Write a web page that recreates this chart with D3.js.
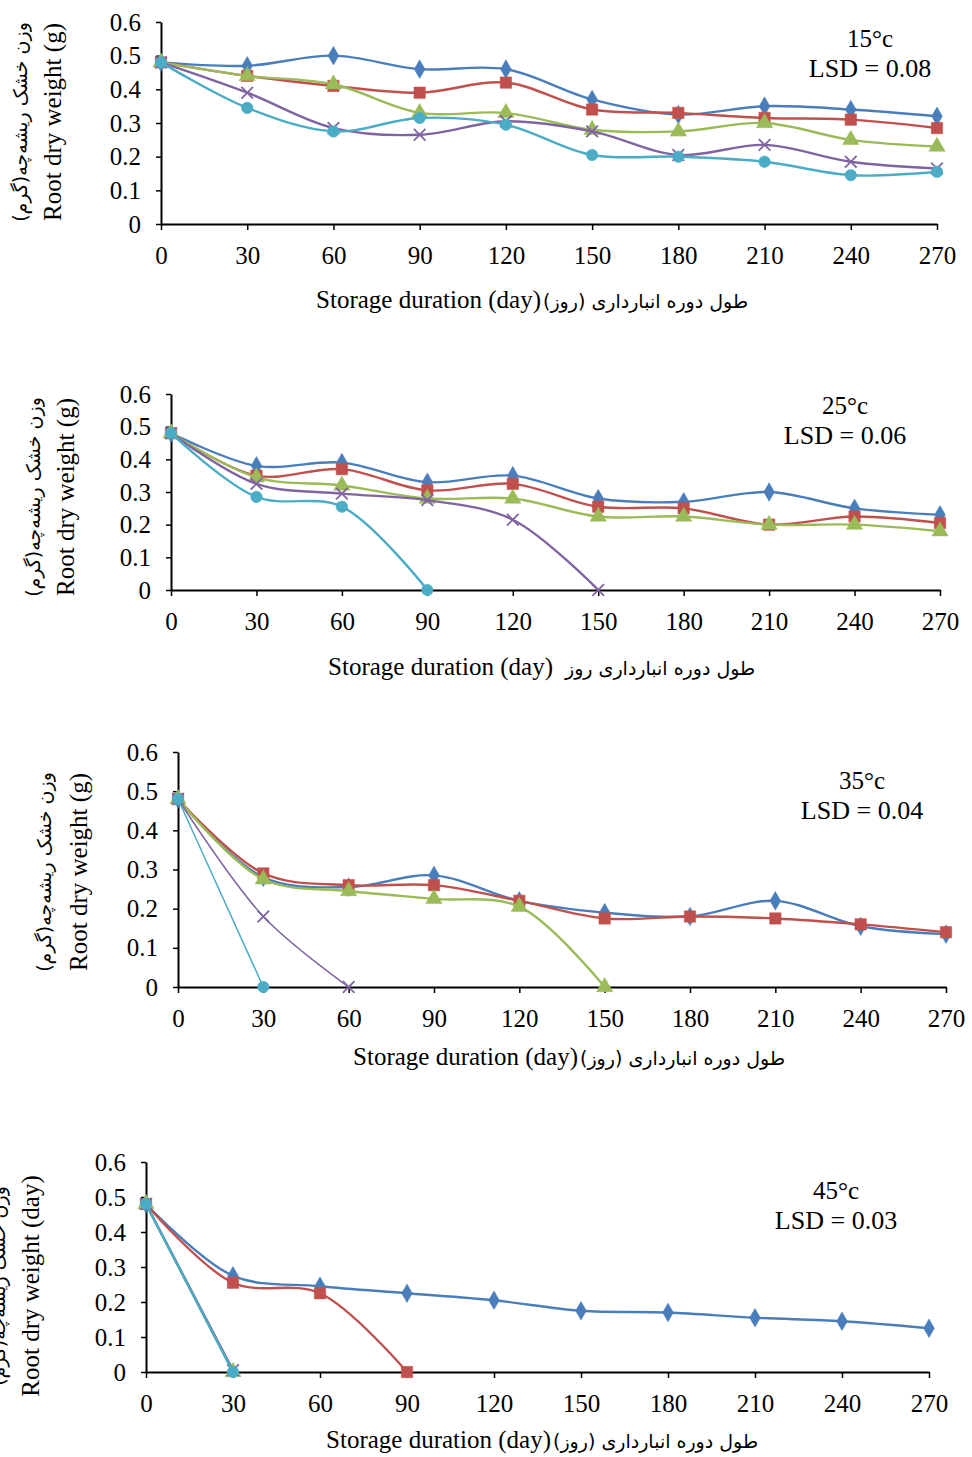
<!DOCTYPE html>
<html>
<head>
<meta charset="utf-8">
<script src="https://cdn.jsdelivr.net/npm/d3@7"></script>
<style>
  body { margin: 0; background: #fff; }
  svg { display: block; }
</style>
</head>
<body>
<svg id="chart" width="972" height="1457"></svg>
<script>
// days on the x axis, shared by all four panels
var days = [0, 30, 60, 90, 120, 150, 180, 210, 240, 270];
var yTicks = [0, 0.1, 0.2, 0.3, 0.4, 0.5, 0.6];

// series order: blue (diamond), red (square), green (triangle), purple (x), cyan (circle)
var t15 = [
  [0.48, 0.47, 0.50, 0.46, 0.46, 0.37, 0.325, 0.35, 0.34, 0.32],
  [0.48, 0.44, 0.41, 0.39, 0.42, 0.34, 0.33, 0.315, 0.31, 0.285],
  [0.48, 0.44, 0.415, 0.33, 0.33, 0.28, 0.275, 0.30, 0.25, 0.23],
  [0.48, 0.39, 0.285, 0.265, 0.305, 0.275, 0.205, 0.235, 0.185, 0.165],
  [0.48, 0.345, 0.275, 0.315, 0.295, 0.205, 0.20, 0.185, 0.145, 0.155]
];
var t25 = [
  [0.48, 0.38, 0.39, 0.33, 0.35, 0.28, 0.27, 0.30, 0.25, 0.23],
  [0.48, 0.35, 0.37, 0.305, 0.325, 0.255, 0.25, 0.20, 0.225, 0.205],
  [0.48, 0.345, 0.32, 0.28, 0.28, 0.225, 0.225, 0.20, 0.20, 0.18],
  [0.48, 0.325, 0.295, 0.275, 0.215, 0],
  [0.48, 0.285, 0.255, 0]
];
var t35 = [
  [0.48, 0.28, 0.255, 0.285, 0.22, 0.19, 0.18, 0.22, 0.155, 0.135],
  [0.48, 0.29, 0.26, 0.26, 0.22, 0.175, 0.18, 0.175, 0.16, 0.14],
  [0.48, 0.275, 0.245, 0.225, 0.205, 0],
  [0.48, 0.18, 0],
  [0.48, 0]
];
var t45 = [
  [0.48, 0.275, 0.245, 0.225, 0.205, 0.175, 0.17, 0.155, 0.145, 0.125],
  [0.48, 0.255, 0.225, 0],
  [0.48, 0],
  [0.48, 0.005],
  [0.48, 0]
];
var temps = ['15°c', '25°c', '35°c', '45°c'];
var lsds = ['LSD = 0.08', 'LSD = 0.06', 'LSD = 0.04', 'LSD = 0.03'];

var colors = ['#4a7ebb', '#c0504d', '#9bbb59', '#8064a2', '#4bacc6'];
var symbols = [d3.symbolDiamond, d3.symbolSquare, d3.symbolTriangle, d3.symbolX, d3.symbolCircle];
var symSizes = [100, 130, 115, 90, 105];

var faY = 'وزن خشک ریشه‌چه(گرم)';
var faX = ['طول دوره انبارداری (روز)', 'طول دوره انبارداری روز', 'طول دوره انبارداری (روز)', 'طول دوره انبارداری (روز)'];

// panel geometry
var panels = [
  { data: t15, x0: 161, x1: 937, yTop: 22, yBot: 224, ann: [870, 38], xt: [541, 300],
    yl: { en: 'Root dry weight (g)', enX: 52, faX: 20, cy: 122 } },
  { data: t25, x0: 171, x1: 940, yTop: 394, yBot: 590, ann: [845, 405], xt: [553, 667],
    yl: { en: 'Root dry weight (g)', enX: 65, faX: 33, cy: 497 } },
  { data: t35, x0: 178, x1: 946, yTop: 752, yBot: 987, ann: [862, 780], xt: [578, 1057],
    yl: { en: 'Root dry weight (g)', enX: 78, faX: 44, cy: 872 } },
  { data: t45, x0: 146, x1: 929, yTop: 1162, yBot: 1372, ann: [836, 1190], xt: [551, 1440],
    yl: { en: 'Root dry weight (day)', enX: 30, faX: -2, cy: 1286 } }
];

var svg = d3.select('#chart');
var serif = '"Liberation Serif", "Times New Roman", serif';
var faFont = '"DejaVu Sans", "Noto Sans", sans-serif';

panels.forEach(function(p, pi) {
  var x = d3.scaleLinear().domain([0, 270]).range([p.x0, p.x1]);
  var y = d3.scaleLinear().domain([0, 0.6]).range([p.yBot, p.yTop]);
  var g = svg.append('g');

  // axes
  var xAxis = g.append('g')
    .attr('transform', 'translate(0,' + p.yBot + ')')
    .call(d3.axisBottom(x).tickValues(days).tickSize(6).tickSizeOuter(0).tickPadding(16));
  var yAxis = g.append('g')
    .attr('transform', 'translate(' + p.x0 + ',0)')
    .call(d3.axisLeft(y).tickValues(yTicks).tickSize(5).tickSizeOuter(0).tickPadding(15)
      .tickFormat(function(d) { return d === 0 ? '0' : d3.format('.1f')(d); }));
  [xAxis, yAxis].forEach(function(a) {
    a.select('.domain').attr('stroke', '#000').attr('stroke-width', 2);
    a.selectAll('.tick line').attr('stroke', '#000').attr('stroke-width', 1.5);
    a.selectAll('.tick text')
      .attr('fill', '#000')
      .style('font-family', serif)
      .style('font-size', '25px');
  });

  // series lines and markers
  p.data.forEach(function(vals, si) {
    var pts = vals.map(function(v, i) { return [days[i], v]; });
    var line = d3.line()
      .x(function(d) { return x(d[0]); })
      .y(function(d) { return y(d[1]); })
      .curve(d3.curveCatmullRom.alpha(0.5));
    g.append('path')
      .datum(pts)
      .attr('d', line)
      .attr('fill', 'none')
      .attr('stroke', colors[si])
      .attr('stroke-width', (pi === 2 && si >= 3) ? 1.5 : 2.4);
    var isX = symbols[si] === d3.symbolX;
    g.selectAll('.m' + si).data(pts)
      .enter().append('path')
        .attr('class', 'm' + si)
        .attr('transform', function(d) { return 'translate(' + x(d[0]) + ',' + y(d[1]) + ')'; })
        .attr('d', d3.symbol().type(symbols[si]).size(symSizes[si]))
        .attr('fill', isX ? 'none' : colors[si])
        .attr('stroke', colors[si])
        .attr('stroke-width', isX ? 1.8 : 0.5);
  });

  // temperature and LSD
  g.append('text')
    .attr('x', p.ann[0]).attr('y', p.ann[1] + 9)
    .attr('text-anchor', 'middle')
    .style('font-family', serif).style('font-size', '25px')
    .text(temps[pi]);
  g.append('text')
    .attr('x', p.ann[0]).attr('y', p.ann[1] + 39)
    .attr('text-anchor', 'middle')
    .style('font-family', serif).style('font-size', '26px')
    .text(lsds[pi]);

  // x title: english part then persian part
  g.append('text')
    .attr('x', p.xt[0]).attr('y', p.xt[1] + 8)
    .attr('text-anchor', 'end')
    .style('font-family', serif).style('font-size', '25px')
    .text('Storage duration (day)');
  g.append('text')
    .attr('x', p.xt[0] + (pi === 1 ? 12 : 2)).attr('y', p.xt[1] + 8)
    .attr('text-anchor', 'end')
    .attr('direction', 'rtl')
    .style('font-family', faFont).style('font-size', '19px')
    .text(faX[pi]);

  // y titles
  g.append('text')
    .attr('transform', 'translate(' + (p.yl.enX + 9) + ',' + p.yl.cy + ') rotate(-90)')
    .attr('text-anchor', 'middle')
    .style('font-family', serif).style('font-size', '25px')
    .text(p.yl.en);
  g.append('text')
    .attr('transform', 'translate(' + (p.yl.faX + 7) + ',' + p.yl.cy + ') rotate(-90)')
    .attr('text-anchor', 'middle')
    .attr('direction', 'rtl')
    .style('font-family', faFont).style('font-size', '19px')
    .text(faY);
});
</script>
</body>
</html>
